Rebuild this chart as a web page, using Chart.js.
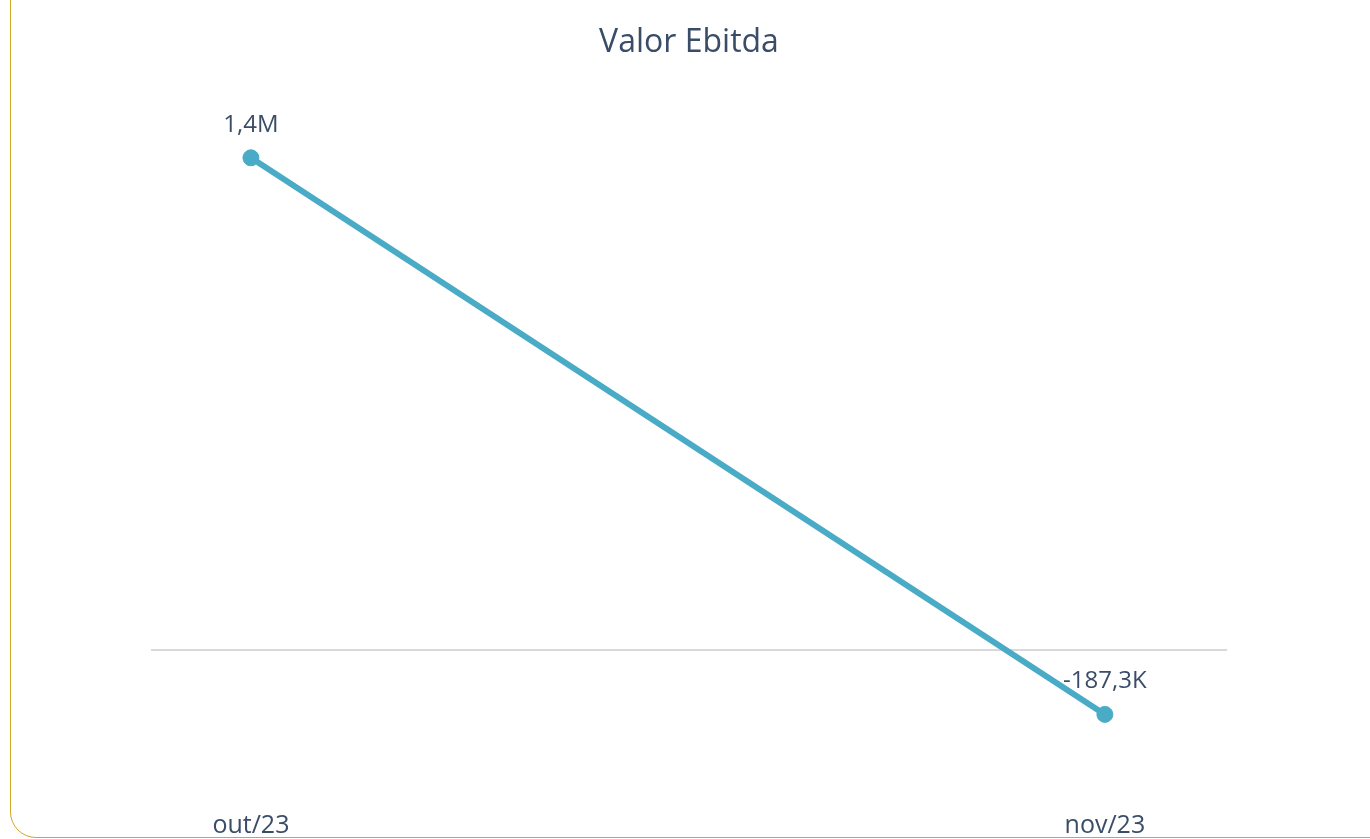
<!DOCTYPE html>
<html>
<head>
<meta charset="utf-8">
<script src="https://cdn.jsdelivr.net/npm/chart.js@4/dist/chart.umd.min.js"></script>
<style>
  html, body { margin: 0; padding: 0; background: #fff; overflow: hidden; }
  .frame {
    position: absolute; left: 10px; top: -30px; width: 1420px; height: 868px;
    border: 1.5px solid #d1a52a; border-radius: 26px; box-sizing: border-box;
  }
  .wrap { position: absolute; left: 0; top: 0; width: 1370px; height: 839px; }
</style>
</head>
<body>
<div class="frame"></div>
<div class="wrap"><canvas id="myChart"></canvas></div>
<script>
const MONTHS = ['out/23', 'nov/23'];
const EBITDA = [1440000, -187300];

const TEXT = '#3a4d68';
const LINE = '#4aabc6';
const FONT = "'Open Sans', 'Noto Sans', sans-serif";

function fmt(v) {
    if (Math.abs(v) >= 1e6) return (v / 1e6).toFixed(1).replace('.', ',') + 'M';
    return (v / 1e3).toFixed(1).replace('.', ',') + 'K';
}

// draws the value above each point
const valueLabels = {
    id: 'valueLabels',
    afterDatasetsDraw(chart) {
        const ctx = chart.ctx;
        const meta = chart.getDatasetMeta(0);
        ctx.save();
        ctx.font = '24px ' + FONT;
        ctx.fillStyle = TEXT;
        ctx.textAlign = 'center';
        ctx.textBaseline = 'middle';
        meta.data.forEach((pt, i) => {
            ctx.fillText(fmt(EBITDA[i]), pt.x, pt.y - 33);
        });
        ctx.restore();
    }
};

const ctx = document.getElementById('myChart').getContext('2d');
new Chart(ctx, {
    type: 'line',
    data: {
        datasets: [{
            label: 'Valor Ebitda',
            data: EBITDA.map((v, i) => ({x: i, y: v})),
            borderColor: LINE,
            backgroundColor: LINE,
            borderWidth: 6,
            pointRadius: 8,
            pointBorderWidth: 1,
            pointHoverRadius: 8,
            tension: 0
        }]
    },
    options: {
        responsive: true,
        maintainAspectRatio: false,
        animation: false,
        layout: { padding: { left: 151, right: 143, top: 0, bottom: 0 } },
        plugins: {
            legend: { display: false },
            tooltip: { enabled: false },
            title: {
                display: true,
                text: 'Valor Ebitda',
                color: TEXT,
                font: { family: FONT, size: 32, weight: 'normal' },
                padding: { top: 24, bottom: 17 }
            }
        },
        scales: {
            x: {
                type: 'linear',
                min: -0.117,
                max: 1.143,
                afterBuildTicks: axis => { axis.ticks = MONTHS.map((m, i) => ({value: i})); },
                grid: { display: false },
                border: { display: false },
                ticks: {
                    color: TEXT,
                    font: { family: FONT, size: 25, lineHeight: 0.8 },
                    padding: 3,
                    callback: v => MONTHS[v]
                }
            },
            y: {
                min: -452200,
                max: 1669200,
                afterBuildTicks: axis => { axis.ticks = [{value: 0}]; },
                ticks: { display: false },
                border: { display: false },
                grid: { color: '#d9d9d9', lineWidth: 2, drawTicks: false }
            }
        }
    },
    plugins: [valueLabels]
});
</script>
</body>
</html>
